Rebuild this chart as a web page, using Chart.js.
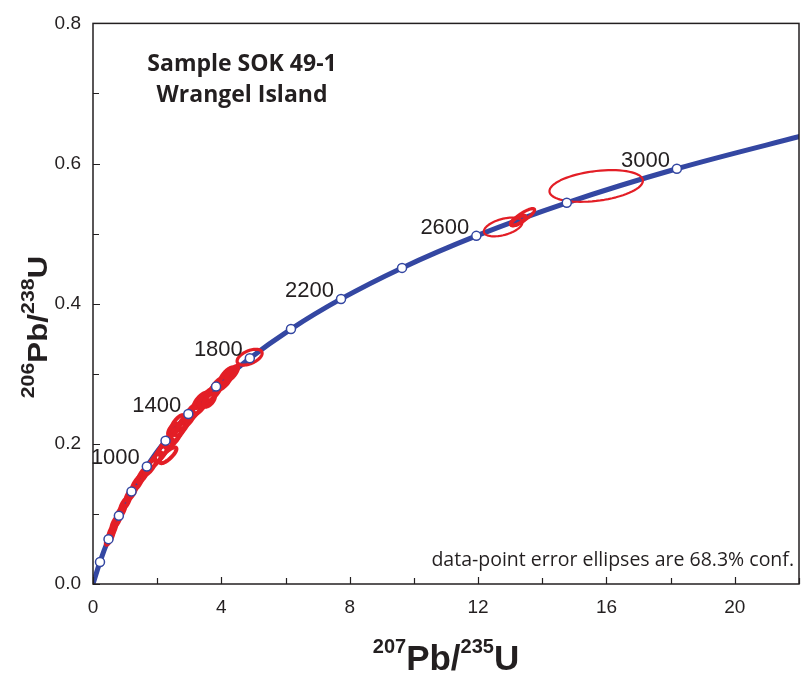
<!DOCTYPE html>
<html>
<head>
<meta charset="utf-8">
<script src="https://cdn.jsdelivr.net/npm/chart.js@4/dist/chart.umd.min.js"></script>
<style>
  html, body { margin: 0; padding: 0; background: #fff; }
</style>
</head>
<body>
<canvas id="concordia" width="805" height="675"></canvas>
<script>
// concordia curve, ages in Ma and the ratios read at each age marker
const ages = [0, 200, 400, 600, 800, 1000, 1200, 1400, 1600, 1800, 2000, 2200, 2400, 2600, 2800, 3000, 3200];
const concX = [0, 0.218, 0.483, 0.806, 1.199, 1.677, 2.260, 2.970, 3.835, 4.887, 6.169, 7.729, 9.630, 11.945, 14.763, 18.194, 22.37];
const concY = [0, 0.0315, 0.0640, 0.0975, 0.1321, 0.1678, 0.2046, 0.2426, 0.2817, 0.3221, 0.3638, 0.4068, 0.4511, 0.4968, 0.5440, 0.5926, 0.6428];
const labelledAges = [1000, 1400, 1800, 2200, 2600, 3000];

// error ellipses: centre, half-widths and correlation
const ellX   = [0.52, 0.60, 0.72, 0.86, 1.00, 1.18, 1.38, 1.56, 1.78, 1.95, 2.12, 2.26, 2.48, 2.62, 2.76, 2.64, 2.92, 3.10, 3.30, 3.36, 3.56, 3.74, 3.90, 4.08, 4.18, 4.34, 2.50, 3.62, 2.34, 4.88, 12.78, 13.39, 13.25, 15.68];
const ellY   = [0.066, 0.076, 0.089, 0.102, 0.115, 0.129, 0.144, 0.156, 0.167, 0.177, 0.187, 0.196, 0.207, 0.216, 0.224, 0.230, 0.234, 0.245, 0.253, 0.262, 0.266, 0.273, 0.283, 0.289, 0.298, 0.301, 0.220, 0.262, 0.1837, 0.3237, 0.5095, 0.5237, 0.5187, 0.568];
const ellSx  = [0.12, 0.12, 0.14, 0.14, 0.15, 0.16, 0.17, 0.17, 0.18, 0.19, 0.20, 0.22, 0.25, 0.24, 0.22, 0.20, 0.24, 0.25, 0.24, 0.22, 0.26, 0.24, 0.24, 0.24, 0.22, 0.18, 0.16, 0.18, 0.26, 0.39, 0.60, 0.37, 0.23, 1.456];
const ellSy  = [0.010, 0.010, 0.010, 0.010, 0.010, 0.010, 0.011, 0.011, 0.011, 0.011, 0.012, 0.012, 0.013, 0.013, 0.012, 0.011, 0.012, 0.013, 0.012, 0.011, 0.013, 0.012, 0.012, 0.012, 0.011, 0.010, 0.009, 0.009, 0.0113, 0.0113, 0.0134, 0.012, 0.007, 0.0226];
const ellRho = [0.8, 0.8, 0.8, 0.8, 0.8, 0.8, 0.8, 0.8, 0.8, 0.8, 0.75, 0.75, 0.75, 0.75, 0.75, 0.75, 0.75, 0.75, 0.75, 0.75, 0.75, 0.75, 0.75, 0.75, 0.75, 0.75, 0.6, 0.6, 0.8, 0.5, 0.47, 0.85, 0.7, 0.33];

const INK = '#231f20';
const BLUE = '#3447a2';
const RED = '#e31e26';

const curvePts = concX.map((x, i) => ({ x: x, y: concY[i] }));
const markerPts = curvePts.slice(1, -1);

// red error ellipses, drawn just above the concordia line
const ellipsePlugin = {
  id: 'ellipses',
  afterDatasetDraw(chart, args) {
    if (chart.data.datasets[args.index].label !== 'Concordia') return;
    const ctx = chart.ctx, xs = chart.scales.x, ys = chart.scales.y;
    ctx.save();
    ctx.strokeStyle = RED;
    ctx.lineJoin = 'round';
    for (let e = 0; e < ellX.length; e++) {
      const k = Math.sqrt(1 - ellRho[e] * ellRho[e]);
      ctx.lineWidth = ellSx[e] < 0.3 ? 4 : (ellSx[e] < 0.5 ? 3.2 : 2.2);
      ctx.beginPath();
      for (let i = 0; i <= 72; i++) {
        const a = i / 72 * Math.PI * 2;
        const px = xs.getPixelForValue(ellX[e] + ellSx[e] * Math.cos(a));
        const py = ys.getPixelForValue(ellY[e] + ellSy[e] * (ellRho[e] * Math.cos(a) + k * Math.sin(a)));
        if (i === 0) ctx.moveTo(px, py); else ctx.lineTo(px, py);
      }
      ctx.closePath();
      ctx.stroke();
    }
    ctx.restore();
  }
};

// frame, inward ticks, age labels, titles
const decorPlugin = {
  id: 'decor',
  afterDraw(chart) {
    const ctx = chart.ctx, a = chart.chartArea, xs = chart.scales.x, ys = chart.scales.y;
    ctx.save();
    ctx.strokeStyle = INK;
    ctx.lineWidth = 1.5;
    ctx.strokeRect(a.left, a.top, a.right - a.left, a.bottom - a.top);

    ctx.lineWidth = 1.2;
    ctx.beginPath();
    for (let v = 0; v <= 22; v += 2) {
      const px = Math.round(xs.getPixelForValue(v)) + 0.5;
      const len = v % 4 === 0 ? 7 : 6;
      ctx.moveTo(px, a.bottom); ctx.lineTo(px, a.bottom - len);
    }
    for (let j = 0; j <= 8; j++) {
      const py = Math.round(ys.getPixelForValue(j / 10)) + 0.5;
      const len = j % 2 === 0 ? 7 : 6;
      ctx.moveTo(a.left, py); ctx.lineTo(a.left + len, py);
    }
    ctx.stroke();

    // age labels beside the markers
    ctx.fillStyle = INK;
    ctx.font = '22px "Liberation Sans", Arial, sans-serif';
    ctx.textAlign = 'right';
    ctx.textBaseline = 'middle';
    labelledAges.forEach(age => {
      const i = ages.indexOf(age);
      const px = xs.getPixelForValue(concX[i]);
      const py = ys.getPixelForValue(concY[i]);
      ctx.fillText(String(age), px - 7, py - 8);
    });

    // sample title
    ctx.textAlign = 'center';
    ctx.textBaseline = 'alphabetic';
    ctx.font = 'bold 23px "Open Sans", sans-serif';
    ctx.fillText('Sample SOK 49-1', 242, 71);
    ctx.fillText('Wrangel Island', 242, 102);

    // footnote
    ctx.textAlign = 'right';
    ctx.font = '19.5px "Open Sans", sans-serif';
    ctx.fillText('data-point error ellipses are 68.3% conf.', 794, 566);

    // axis titles with superscripts
    drawIsoTitle(ctx, ['207', 'Pb/', '235', 'U'], (a.left + a.right) / 2, 670, 0, 35, 20, 1);
    drawIsoTitle(ctx, ['206', 'Pb/', '238', 'U'], 47, 327, -Math.PI / 2, 28, 19, 1.12);
    ctx.restore();
  }
};

function drawIsoTitle(ctx, parts, x, y, rot, bigSize, supSize, stretch) {
  const fonts = parts.map((p, i) => 'bold ' + (i % 2 === 0 ? supSize : bigSize) + 'px "Liberation Sans", Arial, sans-serif');
  let total = 0;
  const widths = parts.map((p, i) => { ctx.font = fonts[i]; const w = ctx.measureText(p).width; total += w; return w; });
  ctx.save();
  ctx.translate(x, y);
  ctx.rotate(rot);
  ctx.scale(stretch, 1);
  ctx.textAlign = 'left';
  ctx.textBaseline = 'alphabetic';
  ctx.fillStyle = INK;
  let cx = -total / 2;
  parts.forEach((p, i) => {
    ctx.font = fonts[i];
    ctx.fillText(p, cx, i % 2 === 0 ? -bigSize * 0.48 : 0);
    cx += widths[i];
  });
  ctx.restore();
}

new Chart(document.getElementById('concordia'), {
  type: 'scatter',
  data: {
    datasets: [
      {
        label: 'Age markers',
        data: markerPts,
        showLine: false,
        pointRadius: 4.5,
        pointBackgroundColor: '#fff',
        pointBorderColor: BLUE,
        pointBorderWidth: 1.5,
        order: 1
      },
      {
        label: 'Concordia',
        data: curvePts,
        showLine: true,
        borderColor: BLUE,
        borderWidth: 5,
        pointRadius: 0,
        cubicInterpolationMode: 'monotone',
        order: 2
      }
    ]
  },
  options: {
    responsive: false,
    animation: false,
    devicePixelRatio: 1,
    layout: { padding: { top: 18, right: 2, left: 0, bottom: 0 } },
    plugins: { legend: { display: false }, tooltip: { enabled: false } },
    scales: {
      x: {
        type: 'linear',
        min: 0, max: 22,
        border: { display: false },
        grid: { display: false, drawTicks: false },
        ticks: {
          stepSize: 4, includeBounds: false, padding: 12,
          color: INK, font: { family: '"Liberation Sans", Arial, sans-serif', size: 19 },
          callback: v => String(v)
        },
        afterFit(scale) { scale.height = 91; }
      },
      y: {
        type: 'linear',
        min: 0, max: 0.8,
        border: { display: false },
        grid: { display: false, drawTicks: false },
        ticks: {
          stepSize: 0.2, padding: 12,
          color: INK, font: { family: '"Liberation Sans", Arial, sans-serif', size: 19 },
          callback: v => v.toFixed(1)
        },
        afterFit(scale) { scale.width = 93; }
      }
    }
  },
  plugins: [ellipsePlugin, decorPlugin]
});
</script>
</body>
</html>
